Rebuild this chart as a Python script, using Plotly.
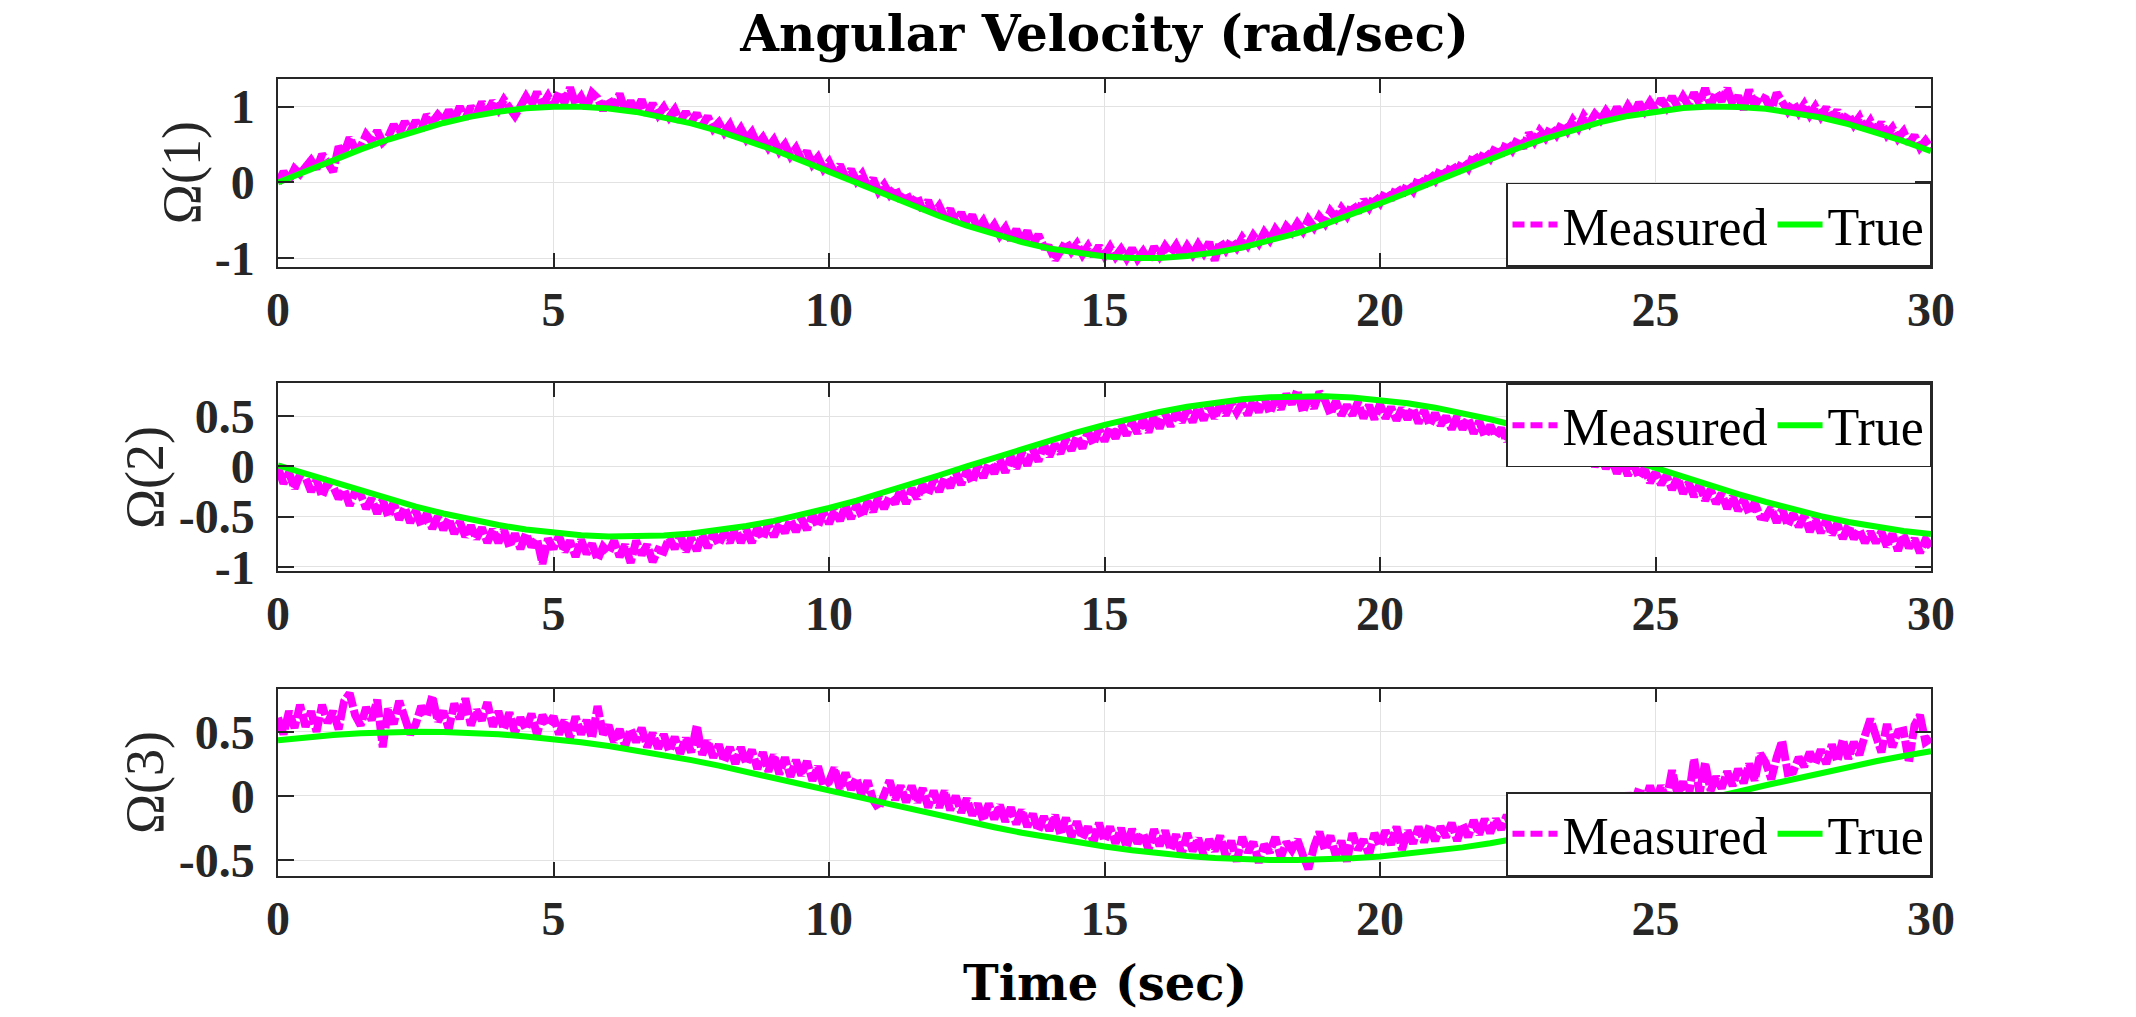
import plotly.graph_objects as go

# ---------------- data ----------------
X_TICKS = [0, 5, 10, 15, 20, 25, 30]
X_TICKTEXT = ["0", "5", "10", "15", "20", "25", "30"]
Y1_TICKS = [-1, 0, 1]
Y1_TICKTEXT = ["-1", "0", "1"]
Y2_TICKS = [-1, -0.5, 0, 0.5]
Y2_TICKTEXT = ["-1", "-0.5", "0", "0.5"]
Y3_TICKS = [-0.5, 0, 0.5]
Y3_TICKTEXT = ["-0.5", "0", "0.5"]

TRUE_DT = 0.5      # sample spacing of the true signal (s)
MEAS_DT = 0.1      # sample spacing of the measured signal (s)

true1 = [0.000, 0.149, 0.296, 0.435, 0.565, 0.682, 0.783, 0.867, 0.932, 0.976, 0.997,
         0.997, 0.974, 0.929, 0.863, 0.778, 0.675, 0.558, 0.427, 0.287, 0.141,
         -0.008, -0.158, -0.304, -0.443, -0.572, -0.688, -0.788, -0.872, -0.935, -0.978,
         -0.998, -0.996, -0.971, -0.926, -0.859, -0.773, -0.669, -0.551, -0.420, -0.279,
         -0.133, 0.017, 0.166, 0.312, 0.450, 0.578, 0.694, 0.794, 0.876, 0.938,
         0.980, 0.999, 0.995, 0.970, 0.922, 0.855, 0.768, 0.663, 0.544, 0.412]

true2 = [0.010, -0.071, -0.159, -0.244, -0.324, -0.400, -0.469, -0.531, -0.584, -0.628, -0.662,
         -0.685, -0.698, -0.699, -0.689, -0.668, -0.636, -0.594, -0.542, -0.482, -0.414,
         -0.340, -0.260, -0.176, -0.088, 0.000, 0.088, 0.175, 0.259, 0.340, 0.414,
         0.482, 0.542, 0.594, 0.636, 0.668, 0.689, 0.699, 0.698, 0.686, 0.663,
         0.629, 0.585, 0.531, 0.470, 0.401, 0.326, 0.244, 0.159, 0.071, -0.018,
         -0.106, -0.192, -0.276, -0.354, -0.426, -0.495, -0.553, -0.603, -0.643, -0.673]

true3 = [0.434, 0.457, 0.475, 0.488, 0.496, 0.500, 0.498, 0.492, 0.480, 0.464, 0.443,
         0.418, 0.389, 0.355, 0.318, 0.279, 0.236, 0.190, 0.144, 0.095, 0.045,
         -0.005, -0.054, -0.104, -0.152, -0.199, -0.244, -0.287, -0.326, -0.362, -0.394,
         -0.423, -0.447, -0.468, -0.483, -0.494, -0.499, -0.500, -0.496, -0.486, -0.472,
         -0.452, -0.429, -0.401, -0.369, -0.333, -0.294, -0.252, -0.208, -0.162, -0.114,
         -0.066, -0.016, 0.033, 0.083, 0.132, 0.180, 0.226, 0.270, 0.311, 0.348]

meas1 = [-0.01, 0.14, 0.03, 0.18, 0.11, 0.22, 0.29, 0.18, 0.37, 0.26,
         0.14, 0.47, 0.38, 0.59, 0.44, 0.47, 0.63, 0.54, 0.68, 0.53,
         0.60, 0.76, 0.64, 0.80, 0.67, 0.81, 0.69, 0.89, 0.79, 0.89,
         0.81, 0.95, 0.83, 1.00, 0.84, 1.00, 0.89, 1.06, 0.92, 1.07,
         0.96, 1.09, 0.98, 0.88, 1.00, 1.13, 1.01, 1.19, 1.02, 1.14,
         1.01, 1.19, 1.05, 1.25, 1.03, 1.13, 0.98, 1.18, 1.11, 0.95,
         1.10, 0.98, 1.17, 0.94, 1.07, 0.94, 1.09, 0.89, 1.04, 0.89,
         0.99, 0.86, 0.96, 0.80, 0.93, 0.79, 0.91, 0.75, 0.87, 0.71,
         0.79, 0.66, 0.76, 0.60, 0.71, 0.57, 0.66, 0.50, 0.59, 0.46,
         0.56, 0.41, 0.50, 0.35, 0.45, 0.30, 0.41, 0.24, 0.33, 0.18,
         0.27, 0.12, 0.23, 0.06, 0.17, 0.02, 0.11, -0.06, 0.05, -0.12,
         -0.03, -0.16, -0.07, -0.24, -0.14, -0.29, -0.18, -0.37, -0.24, -0.41,
         -0.31, -0.46, -0.35, -0.53, -0.40, -0.56, -0.43, -0.61, -0.51, -0.66,
         -0.56, -0.70, -0.60, -0.76, -0.62, -0.78, -0.64, -0.83, -0.69, -0.85,
         -0.86, -1.02, -0.91, -0.78, -0.91, -0.81, -0.95, -0.84, -0.97, -0.84,
         -0.97, -0.85, -0.98, -0.88, -1.00, -0.87, -1.01, -0.91, -1.03, -0.85,
         -0.97, -0.84, -0.94, -0.83, -0.97, -0.84, -0.95, -0.82, -0.93, -0.79,
         -1.03, -0.78, -0.89, -0.76, -0.86, -0.73, -0.83, -0.70, -0.80, -0.66,
         -0.76, -0.62, -0.72, -0.58, -0.66, -0.54, -0.64, -0.49, -0.59, -0.45,
         -0.54, -0.38, -0.47, -0.34, -0.44, -0.29, -0.40, -0.23, -0.33, -0.18,
         -0.27, -0.12, -0.23, -0.06, -0.17, -0.02, -0.11, 0.06, -0.05, 0.12,
         0.03, 0.18, 0.07, 0.24, 0.13, 0.28, 0.19, 0.37, 0.26, 0.41,
         0.32, 0.47, 0.36, 0.53, 0.43, 0.58, 0.45, 0.65, 0.54, 0.68,
         0.59, 0.73, 0.63, 0.78, 0.68, 0.82, 0.72, 0.88, 0.78, 0.90,
         0.82, 0.94, 0.84, 0.99, 0.87, 1.01, 0.90, 1.05, 0.94, 1.06,
         0.95, 1.10, 0.99, 1.13, 1.00, 1.13, 1.01, 1.18, 1.04, 1.24,
         1.01, 1.19, 1.07, 1.24, 1.03, 1.14, 0.96, 1.22, 1.01, 1.14,
         1.10, 0.95, 1.18, 1.07, 0.94, 1.05, 0.92, 1.03, 0.89, 1.00,
         0.87, 0.99, 0.83, 0.95, 0.78, 0.90, 0.76, 0.86, 0.70, 0.81,
         0.67, 0.79, 0.63, 0.72, 0.58, 0.67, 0.51, 0.62, 0.46, 0.55,
         0.45]

meas2 = [-0.01, -0.17, -0.06, -0.22, -0.08, -0.11, -0.25, -0.13, -0.30, -0.16,
         -0.20, -0.32, -0.23, -0.39, -0.25, -0.28, -0.42, -0.32, -0.47, -0.33,
         -0.50, -0.36, -0.53, -0.41, -0.56, -0.44, -0.59, -0.47, -0.62, -0.50,
         -0.63, -0.52, -0.67, -0.55, -0.70, -0.59, -0.72, -0.61, -0.76, -0.63,
         -0.76, -0.63, -0.80, -0.67, -0.82, -0.67, -0.80, -0.72, -0.97, -0.72,
         -0.82, -0.69, -0.85, -0.74, -0.90, -0.73, -0.87, -0.77, -0.93, -0.80,
         -0.86, -0.74, -0.90, -0.78, -0.96, -0.74, -0.88, -0.78, -0.95, -0.83,
         -0.85, -0.71, -0.82, -0.68, -0.85, -0.71, -0.84, -0.68, -0.81, -0.66,
         -0.78, -0.65, -0.76, -0.61, -0.76, -0.63, -0.76, -0.61, -0.72, -0.57,
         -0.70, -0.57, -0.66, -0.53, -0.65, -0.52, -0.63, -0.48, -0.60, -0.45,
         -0.57, -0.44, -0.54, -0.39, -0.52, -0.38, -0.50, -0.35, -0.45, -0.30,
         -0.42, -0.30, -0.37, -0.23, -0.37, -0.22, -0.32, -0.18, -0.28, -0.13,
         -0.25, -0.11, -0.21, -0.06, -0.18, -0.04, -0.16, 0.01, -0.11, 0.03,
         -0.07, 0.07, -0.06, 0.10, -0.02, 0.14, 0.01, 0.17, 0.05, 0.22,
         0.10, 0.22, 0.13, 0.27, 0.16, 0.30, 0.18, 0.35, 0.22, 0.38,
         0.25, 0.39, 0.28, 0.42, 0.31, 0.44, 0.33, 0.47, 0.34, 0.51,
         0.38, 0.53, 0.40, 0.55, 0.44, 0.57, 0.44, 0.59, 0.46, 0.61,
         0.48, 0.62, 0.51, 0.64, 0.54, 0.63, 0.51, 0.66, 0.54, 0.69,
         0.53, 0.67, 0.57, 0.72, 0.62, 0.76, 0.54, 0.68, 0.58, 0.74,
         0.66, 0.52, 0.65, 0.51, 0.61, 0.51, 0.64, 0.48, 0.61, 0.47,
         0.62, 0.48, 0.59, 0.46, 0.58, 0.47, 0.58, 0.43, 0.56, 0.41,
         0.53, 0.41, 0.50, 0.37, 0.50, 0.37, 0.48, 0.33, 0.45, 0.30,
         0.41, 0.30, 0.38, 0.25, 0.36, 0.24, 0.35, 0.21, 0.30, 0.18,
         0.27, 0.15, 0.25, 0.10, 0.22, 0.08, 0.19, 0.05, 0.15, 0.00,
         0.10, -0.02, 0.08, -0.07, 0.05, -0.09, 0.03, -0.11, -0.02, -0.16,
         -0.06, -0.18, -0.09, -0.23, -0.11, -0.27, -0.16, -0.30, -0.18, -0.34,
         -0.23, -0.37, -0.27, -0.42, -0.30, -0.44, -0.33, -0.47, -0.36, -0.50,
         -0.51, -0.41, -0.56, -0.42, -0.59, -0.47, -0.60, -0.49, -0.65, -0.52,
         -0.66, -0.53, -0.68, -0.57, -0.72, -0.59, -0.72, -0.63, -0.76, -0.65,
         -0.76, -0.65, -0.80, -0.67, -0.84, -0.68, -0.81, -0.72, -0.86, -0.73,
         -0.80]

meas3 = [0.61, 0.48, 0.66, 0.53, 0.71, 0.54, 0.66, 0.50, 0.71, 0.57,
         0.66, 0.52, 0.74, 0.80, 0.63, 0.55, 0.69, 0.59, 0.75, 0.38,
         0.68, 0.56, 0.74, 0.60, 0.48, 0.56, 0.70, 0.62, 0.78, 0.58,
         0.66, 0.52, 0.72, 0.60, 0.76, 0.55, 0.67, 0.59, 0.73, 0.54,
         0.66, 0.52, 0.65, 0.49, 0.61, 0.52, 0.64, 0.48, 0.63, 0.55,
         0.62, 0.48, 0.59, 0.45, 0.62, 0.48, 0.59, 0.45, 0.70, 0.48,
         0.55, 0.42, 0.52, 0.39, 0.52, 0.42, 0.53, 0.38, 0.49, 0.37,
         0.48, 0.35, 0.46, 0.33, 0.45, 0.34, 0.55, 0.32, 0.43, 0.30,
         0.40, 0.27, 0.38, 0.25, 0.38, 0.25, 0.36, 0.21, 0.34, 0.19,
         0.32, 0.17, 0.30, 0.15, 0.28, 0.16, 0.27, 0.12, 0.23, 0.08,
         0.11, 0.22, 0.05, 0.18, 0.05, 0.14, -0.01, 0.12, -0.03, -0.10,
         0.01, 0.12, -0.03, 0.08, -0.05, 0.08, -0.05, 0.06, -0.09, 0.04,
         -0.09, 0.04, -0.11, 0.00, -0.13, -0.02, -0.15, -0.06, -0.19, -0.06,
         -0.18, -0.07, -0.20, -0.09, -0.22, -0.11, -0.24, -0.14, -0.27, -0.16,
         -0.27, -0.15, -0.30, -0.17, -0.32, -0.20, -0.33, -0.24, -0.36, -0.21,
         -0.35, -0.24, -0.37, -0.25, -0.40, -0.26, -0.37, -0.29, -0.42, -0.26,
         -0.39, -0.27, -0.42, -0.30, -0.46, -0.29, -0.43, -0.33, -0.46, -0.34,
         -0.43, -0.31, -0.47, -0.35, -0.51, -0.32, -0.44, -0.36, -0.52, -0.38,
         -0.44, -0.32, -0.48, -0.36, -0.42, -0.34, -0.46, -0.57, -0.40, -0.28,
         -0.42, -0.31, -0.47, -0.35, -0.51, -0.29, -0.42, -0.34, -0.46, -0.29,
         -0.39, -0.27, -0.38, -0.24, -0.42, -0.27, -0.37, -0.24, -0.36, -0.23,
         -0.35, -0.24, -0.32, -0.21, -0.35, -0.22, -0.32, -0.19, -0.30, -0.18,
         -0.29, -0.18, -0.26, -0.15, -0.26, -0.15, -0.25, -0.12, -0.23, -0.12,
         -0.21, -0.11, -0.20, -0.09, -0.18, -0.07, -0.18, -0.05, -0.15, -0.02,
         -0.13, -0.02, -0.11, 0.02, -0.09, 0.02, -0.07, 0.06, -0.05, 0.08,
         -0.05, 0.08, -0.03, 0.20, 0.01, 0.11, -0.02, 0.29, 0.02, 0.26,
         0.04, 0.15, 0.06, 0.19, 0.08, 0.21, 0.10, 0.25, 0.12, 0.33,
         0.26, 0.13, 0.30, 0.43, 0.18, 0.19, 0.30, 0.23, 0.34, 0.25,
         0.36, 0.25, 0.40, 0.27, 0.44, 0.29, 0.42, 0.32, 0.47, 0.60,
         0.47, 0.34, 0.56, 0.38, 0.50, 0.51, 0.26, 0.55, 0.63, 0.42,
         0.45]

# ---------------- styling ----------------
W, H = 2136, 1017
M_L, M_R, M_T, M_B = 278, 205, 79, 141
AX = "#262626"
GRID = "#e2e2e2"
TICK_FONT = dict(family="Liberation Serif", size=48, color=AX, weight="bold")
LEG_FONT = dict(family="Liberation Serif", size=52, color="black")
TITLE_FONT = dict(family="DejaVu Serif", size=50, color="black")
XLABEL_FONT = dict(family="DejaVu Serif", size=48, color="black")
LABEL_FONT = dict(family="Liberation Serif", size=54, color=AX)

MAGENTA = "#FF00FF"
GREEN = "#00FF00"

panels = [
    (meas1, true1, "x", "y", "legend"),
    (meas2, true2, "x2", "y2", "legend2"),
    (meas3, true3, "x3", "y3", "legend3"),
]

fig = go.Figure()
for meas, true, xa, ya, lg in panels:
    # dense noisy measured signal (its dashes merge into a solid band at this density)
    fig.add_trace(go.Scatter(
        y=meas, x0=0, dx=MEAS_DT, mode="lines", name="Measured",
        line=dict(color=MAGENTA, width=8, dash="20px,3px"),
        xaxis=xa, yaxis=ya, showlegend=False))
    fig.add_trace(go.Scatter(
        y=true, x0=0, dx=TRUE_DT, mode="lines", name="True",
        line=dict(color=GREEN, width=6),
        xaxis=xa, yaxis=ya, showlegend=False))
    # legend entries (line style samples)
    fig.add_trace(go.Scatter(
        x=[None], y=[None], mode="lines", name="Measured",
        line=dict(color=MAGENTA, width=6, dash="12px,6px"),
        xaxis=xa, yaxis=ya, legend=lg))
    fig.add_trace(go.Scatter(
        x=[None], y=[None], mode="lines", name="True",
        line=dict(color=GREEN, width=6),
        xaxis=xa, yaxis=ya, legend=lg))

def xaxis_style(anchor):
    return dict(
        anchor=anchor, range=[0, 30], tickvals=X_TICKS, ticktext=X_TICKTEXT,
        ticks="inside", ticklen=14, tickwidth=1.5, tickcolor=AX,
        showline=True, linecolor=AX, linewidth=1.5, mirror="ticks",
        showgrid=True, gridcolor=GRID, gridwidth=1, zeroline=False,
        tickfont=TICK_FONT, ticklabelstandoff=0)

def yaxis_style(anchor, dom, rng, tv, tt):
    return dict(
        anchor=anchor, domain=dom, range=rng, tickvals=tv, ticktext=tt,
        ticks="inside", ticklen=16, tickwidth=1.5, tickcolor=AX,
        showline=True, linecolor=AX, linewidth=1.5, mirror="ticks",
        showgrid=True, gridcolor=GRID, gridwidth=1, zeroline=False,
        tickfont=TICK_FONT, ticklabelstandoff=12)

D1 = [0.7644, 1.0]
D2 = [0.3825, 0.6181]
D3 = [0.0, 0.2352]

leg_common = dict(orientation="h", xanchor="right", x=1.0, bgcolor="white",
                  bordercolor=AX, borderwidth=1.5, font=LEG_FONT,
                  itemwidth=45, tracegroupgap=0)

fig.update_layout(
    width=W, height=H,
    margin=dict(l=M_L, r=M_R, t=M_T, b=M_B, autoexpand=False),
    paper_bgcolor="white", plot_bgcolor="white",
    xaxis=xaxis_style("y"),
    xaxis2=xaxis_style("y2"),
    xaxis3=xaxis_style("y3"),
    yaxis=yaxis_style("x", D1, [-1.113, 1.363], Y1_TICKS, Y1_TICKTEXT),
    yaxis2=yaxis_style("x2", D2, [-1.043, 0.827], Y2_TICKS, Y2_TICKTEXT),
    yaxis3=yaxis_style("x3", D3, [-0.624, 0.837], Y3_TICKS, Y3_TICKTEXT),
    legend=dict(**leg_common, y=D1[0], yanchor="bottom"),
    legend2=dict(**leg_common, y=D2[1], yanchor="top"),
    legend3=dict(**leg_common, y=D3[0], yanchor="bottom"),
    showlegend=True,
    title=dict(text="<b>Angular Velocity (rad/sec)</b>", font=TITLE_FONT,
               x=0.5, xref="paper", xanchor="center",
               y=1 - 33 / H, yref="container", yanchor="middle"),
)

annotations = [
    dict(text="<b>Time (sec)</b>", font=XLABEL_FONT, xref="paper", yref="paper",
         x=0.5, y=0, yshift=-107, xanchor="center", yanchor="middle",
         showarrow=False),
    dict(text="Ω(1)", font=LABEL_FONT, textangle=-90, xref="paper", yref="paper",
         x=-0.0579, y=sum(D1) / 2, xanchor="center", yanchor="middle", showarrow=False),
    dict(text="Ω(2)", font=LABEL_FONT, textangle=-90, xref="paper", yref="paper",
         x=-0.0800, y=sum(D2) / 2, xanchor="center", yanchor="middle", showarrow=False),
    dict(text="Ω(3)", font=LABEL_FONT, textangle=-90, xref="paper", yref="paper",
         x=-0.0800, y=sum(D3) / 2, xanchor="center", yanchor="middle", showarrow=False),
]
fig.update_layout(annotations=annotations)

fig.write_html("out.html")
